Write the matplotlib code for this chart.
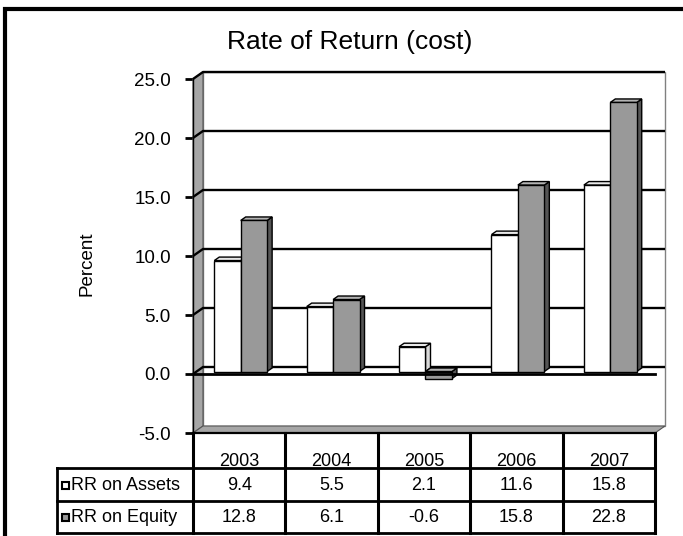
import matplotlib
matplotlib.use("Agg")
import matplotlib.pyplot as plt
import matplotlib.transforms as mtransforms
from matplotlib.patches import Polygon, Rectangle
from matplotlib.lines import Line2D

# data
years = ["2003", "2004", "2005", "2006", "2007"]
assets = [9.4, 5.5, 2.1, 11.6, 15.8]
equity = [12.8, 6.1, -0.6, 15.8, 22.8]
series_names = ["RR on Assets", "RR on Equity"]
yticks = [-5, 0, 5, 10, 15, 20, 25]

plt.rcParams['font.family'] = ['Liberation Sans', 'DejaVu Sans']

W, H = 683, 536
fig = plt.figure(figsize=(W / 100, H / 100), dpi=100)
ax = fig.add_axes([193 / W, 1 - 433 / H, 462 / W, 354 / H])
ax.set_xlim(0, 5)
ax.set_ylim(-5, 25)

px_x = 462 / 5.0
px_y = 354 / 30.0
# depth of the walls and of the bars (pixels -> data units)
wdx, wdy = 10 / px_x, 7 / px_y
fx, fy = 1.5 / px_x, 2.5 / px_y
bdx, bdy = 5 / px_x, 3.5 / px_y

wall_gray = '#a6a6a6'
ax.add_patch(Rectangle((wdx, -5 + wdy), 5, 30, facecolor='white',
                       edgecolor='#808080', lw=1, clip_on=False, zorder=1))
ax.add_patch(Polygon([(0, -5), (0, 25), (wdx, 25 + wdy), (wdx, -5 + wdy)],
                     closed=True, facecolor=wall_gray, edgecolor='#555555',
                     lw=0.8, clip_on=False, zorder=2))
ax.add_patch(Polygon([(0, -5), (5, -5), (5 + wdx, -5 + wdy), (wdx, -5 + wdy)],
                     closed=True, facecolor=wall_gray, edgecolor='#555555',
                     lw=0.8, clip_on=False, zorder=2))

for t in yticks[1:]:
    ax.plot([0, wdx, 5 + wdx], [t, t + wdy, t + wdy], color='black', lw=1.7,
            clip_on=False, zorder=3, solid_capstyle='butt')

ax.plot([0, 5], [-5, -5], color='black', lw=1.6, clip_on=False, zorder=3)

# bars, front faces through ax.bar, depth faces added from each bar
width = 0.286
idx = list(range(len(years)))
styles = [('white', '#d9d9d9', '#e8e8e8'), ('#999999', '#555555', '#b3b3b3')]
z = 10
for i in idx:
    for k, vals in enumerate([assets, equity]):
        face, side, top = styles[k]
        b = ax.bar(i + 0.214 + k * width + fx, vals[i], width, bottom=fy,
                   align='edge', facecolor=face, edgecolor='black', lw=1,
                   zorder=z + 2)[0]
        x0 = b.get_x()
        x1 = x0 + b.get_width()
        y0 = min(b.get_y(), b.get_y() + b.get_height())
        y1 = max(b.get_y(), b.get_y() + b.get_height())
        ax.add_patch(Polygon([(x1, y0), (x1 + bdx, y0 + bdy), (x1 + bdx, y1 + bdy), (x1, y1)],
                             closed=True, facecolor=side, edgecolor='black', lw=1, zorder=z))
        ax.add_patch(Polygon([(x0, y1), (x1, y1), (x1 + bdx, y1 + bdy), (x0 + bdx, y1 + bdy)],
                             closed=True, facecolor=top, edgecolor='black', lw=1, zorder=z + 1))
        z += 3

ax.plot([0, 5], [0, 0], color='black', lw=2, zorder=100, clip_on=False)

ax.set_yticks(yticks)
ax.set_yticklabels(["%.1f" % t for t in yticks])
ax.set_xticks([])
ax.tick_params(axis='y', length=6, width=2, pad=10, labelsize=13.5)
for s in ['top', 'right', 'bottom']:
    ax.spines[s].set_visible(False)
ax.spines['left'].set_linewidth(1)
ax.patch.set_visible(False)

fig.text(350 / W, 1 - 42 / H, "Rate of Return (cost)", ha='center', va='center', fontsize=19)
fig.text(87 / W, 1 - 264 / H, "Percent", ha='center', va='center', rotation=90, fontsize=13.5)

# data table under the chart
tr = mtransforms.blended_transform_factory(ax.transData, fig.transFigure)
left = (57 - 193) / px_x
fy_top, fy_r1, fy_r2, fy_bot = [1 - v / H for v in (433, 468, 501, 533)]
for i in range(len(years) + 1):
    fig.add_artist(Line2D([i, i], [fy_top, fy_bot], transform=tr, color='black', lw=2.2))
for yy in (fy_r1, fy_r2, fy_bot):
    fig.add_artist(Line2D([left, 5], [yy, yy], transform=tr, color='black', lw=2))
fig.add_artist(Line2D([left, left], [fy_r1, fy_bot], transform=tr, color='black', lw=2))

for i, yr in enumerate(years):
    fig.text(i + 0.5, 1 - 461 / H, yr, transform=tr, ha='center', va='center', fontsize=13)
    fig.text(i + 0.5, 1 - 485 / H, "%.1f" % assets[i], transform=tr, ha='center', va='center', fontsize=13)
    fig.text(i + 0.5, 1 - 517 / H, "%.1f" % equity[i], transform=tr, ha='center', va='center', fontsize=13)

for k, (name, yc) in enumerate(zip(series_names, (485, 517))):
    fig.add_artist(Rectangle((62 / W, 1 - (yc + 3.5) / H), 7 / W, 7 / H, transform=fig.transFigure,
                             facecolor=styles[k][0], edgecolor='black', lw=1.5))
    fig.text(71 / W, 1 - yc / H, name, ha='left', va='center', fontsize=13)

# outer chart border (cut at right and bottom)
fig.add_artist(Rectangle((5 / W, -0.1), 1.2, 1.1 - 9 / H, transform=fig.transFigure,
                         fill=False, edgecolor='black', lw=3))

fig.savefig('out.png', dpi=100)
